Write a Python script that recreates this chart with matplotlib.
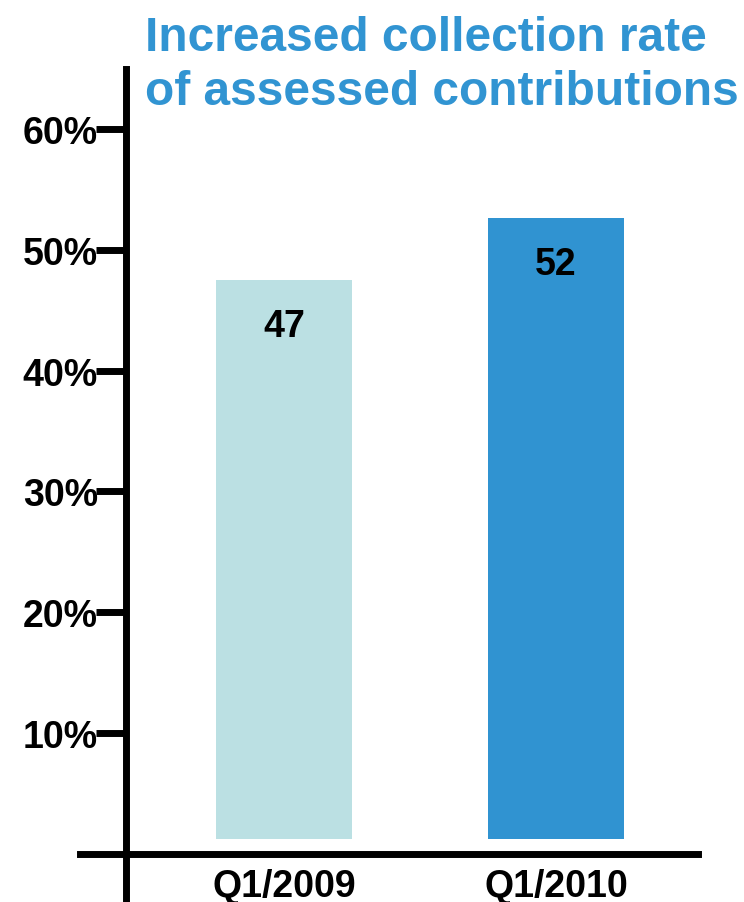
import matplotlib
matplotlib.use("Agg")
import matplotlib.pyplot as plt

plt.rcParams['font.family'] = ['Liberation Sans', 'DejaVu Sans']
plt.rcParams['font.weight'] = 'bold'

# data
periods = ['Q1/2009', 'Q1/2010']
rates = [47.5, 52.6]          # bar tops, percent
base = 1.2                    # bars start a little above the axis
bar_labels = ['47', '52']
yticks = [10, 20, 30, 40, 50, 60]
colors = ['#bbe0e3', '#3093d1']

fig = plt.figure(figsize=(7.44, 9.03), dpi=100)
ax = fig.add_axes([80 / 744, 3 / 903, 618 / 744, 830 / 903])

x = list(range(len(periods)))
ax.bar(x, [r - base for r in rates], bottom=base, width=0.5, color=colors)

for xi, top, lab in zip(x, rates, bar_labels):
    ax.annotate(lab, xy=(xi, top), xytext=(0, -33), textcoords='offset points',
                ha='center', va='center', fontsize=27, fontweight='bold', color='black')

ax.set_xlim(-0.75, 1.522)
ax.set_ylim(-3.73, 64.97)

# spines crossing like the original
ax.spines['right'].set_color('none')
ax.spines['top'].set_color('none')
ax.spines['left'].set_position(('data', -0.581))
ax.spines['bottom'].set_position(('data', 0))
for s in ('left', 'bottom'):
    ax.spines[s].set_linewidth(5)
    ax.spines[s].set_color('black')

ax.set_yticks(yticks)
ax.set_yticklabels([f'{v}%' for v in yticks])
ax.tick_params(axis='y', direction='out', length=21.6, width=5, pad=-1.5,
               labelsize=27, colors='black')
ax.set_xticks(x)
ax.set_xticklabels(periods)
ax.tick_params(axis='x', length=0, pad=10, labelsize=27)
for lbl in ax.get_xticklabels() + ax.get_yticklabels():
    lbl.set_fontweight('bold')

fig.text(145 / 744, 1 - 105 / 903, 'Increased collection rate\nof assessed contributions',
         ha='left', va='baseline', fontsize=34.5, fontweight='bold', color='#3194d2',
         linespacing=1.27, transform=fig.transFigure)

fig.savefig('out.png', dpi=100)
